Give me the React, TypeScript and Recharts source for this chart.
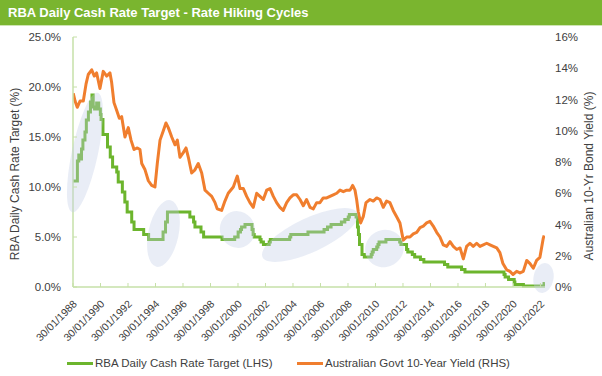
import { LineChart, Line, XAxis, YAxis, ReferenceArea } from "recharts";

if (typeof document !== "undefined") document.body.style.margin = "0";

const FONT = '"Liberation Sans", Arial, Helvetica, sans-serif';
const GREEN = "#6cb52d";
const ORANGE = "#f07e2e";
const AXIS = "#c6e0a8";
const TEXT = "#404040";

// RBA cash rate target: date (decimal year) of each change and new level (%)
const cashDates = [
  1988.08, 1988.4, 1988.5, 1988.6, 1988.7, 1988.8, 1988.95, 1989.05, 1989.2, 1989.35, 1989.46, 1989.55,
  1989.65, 1989.8, 1989.95, 1990.07, 1990.12, 1990.26, 1990.59, 1990.79, 1990.96, 1991.26, 1991.37, 1991.67,
  1991.85, 1992.02, 1992.35, 1992.52, 1993.22, 1993.58, 1994.63, 1994.81, 1994.95, 1996.58, 1996.85, 1996.95,
  1997.39, 1997.58, 1998.92, 1999.84, 2000.09, 2000.26, 2000.34, 2000.59, 2001.1, 2001.18, 2001.26, 2001.68,
  2001.76, 2001.93, 2002.35, 2002.43, 2003.84, 2003.92, 2005.17, 2006.34, 2006.59, 2006.85, 2007.6, 2007.85,
  2008.1, 2008.18, 2008.67, 2008.77, 2008.84, 2008.92, 2009.1, 2009.27, 2009.77, 2009.84, 2009.92, 2010.17,
  2010.26, 2010.34, 2010.84, 2011.84, 2011.93, 2012.34, 2012.43, 2012.76, 2012.93, 2013.35, 2013.6, 2015.1,
  2015.34, 2016.34, 2016.59, 2019.43, 2019.51, 2019.76, 2020.17, 2020.22, 2020.84, 2022.34, 2022.4,
];
const cashRates = [
  10.6, 12.6, 13.2, 12.8, 13.8, 14.7, 15.5, 16.7, 17.5, 18.5, 19.2, 18.0,
  17.8, 18.4, 17.8, 17.25, 16.75, 15.25, 14.0, 13.0, 12.0, 11.5, 10.5, 9.5,
  8.5, 7.5, 6.5, 5.75, 5.25, 4.75, 5.5, 6.5, 7.5, 7.0, 6.5, 6.0,
  5.5, 5.0, 4.75, 5.0, 5.5, 5.75, 6.0, 6.25, 5.75, 5.25, 5.0, 4.75,
  4.5, 4.25, 4.5, 4.75, 5.0, 5.25, 5.5, 5.75, 6.0, 6.25, 6.5, 6.75,
  7.0, 7.25, 7.0, 6.0, 5.25, 4.25, 3.25, 3.0, 3.25, 3.5, 3.75, 4.0,
  4.25, 4.5, 4.75, 4.5, 4.25, 3.75, 3.5, 3.25, 3.0, 2.75, 2.5, 2.25,
  2.0, 1.75, 1.5, 1.25, 1.0, 0.75, 0.5, 0.25, 0.1, 0.35, 0.35,
];

// Australian Govt 10-year bond yield (%)
const bondDates = [
  1988.1, 1988.23, 1988.39, 1988.59, 1988.83, 1989.03, 1989.19, 1989.44, 1989.63, 1989.8, 1990.04, 1990.28,
  1990.53, 1990.77, 1990.89, 1991.06, 1991.26, 1991.45, 1991.62, 1991.86, 1992.1, 1992.3, 1992.52, 1992.76,
  1992.95, 1993.08, 1993.32, 1993.56, 1993.8, 1994.04, 1994.21, 1994.41, 1994.65, 1994.84, 1995.01, 1995.26,
  1995.5, 1995.67, 1995.86, 1996.1, 1996.3, 1996.47, 1996.71, 1996.95, 1997.19, 1997.44, 1997.68, 1997.92,
  1998.17, 1998.41, 1998.57, 1998.89, 1999.13, 1999.37, 1999.74, 2000.03, 2000.23, 2000.47, 2000.71, 2000.95,
  2001.19, 2001.44, 2001.68, 2001.92, 2002.17, 2002.41, 2002.65, 2002.89, 2003.13, 2003.37, 2003.62, 2003.86,
  2004.1, 2004.35, 2004.59, 2004.83, 2005.07, 2005.32, 2005.56, 2005.8, 2006.04, 2006.28, 2006.53, 2006.77,
  2007.01, 2007.26, 2007.5, 2007.74, 2007.99, 2008.23, 2008.42, 2008.59, 2008.71, 2008.83, 2009.0, 2009.19,
  2009.39, 2009.68, 2009.92, 2010.17, 2010.41, 2010.65, 2010.89, 2011.13, 2011.37, 2011.62, 2011.86, 2012.1,
  2012.35, 2012.59, 2012.83, 2013.08, 2013.32, 2013.56, 2013.8, 2014.04, 2014.28, 2014.53, 2014.77, 2015.01,
  2015.26, 2015.5, 2015.74, 2015.99, 2016.23, 2016.47, 2016.71, 2016.95, 2017.19, 2017.44, 2017.68, 2017.92,
  2018.17, 2018.41, 2018.65, 2018.9, 2019.13, 2019.35, 2019.62, 2019.86, 2020.08, 2020.35, 2020.59, 2020.83,
  2021.08, 2021.32, 2021.56, 2021.8, 2022.04, 2022.28, 2022.35,
];
const bondYields = [
  12.4, 11.9, 11.5, 11.9, 11.9, 13.0, 13.6, 13.9, 13.5, 13.7, 12.7, 13.8,
  13.5, 13.7, 13.1, 11.8, 11.3, 10.8, 10.9, 9.6, 10.2, 9.4, 8.8, 8.9,
  8.8, 7.9, 7.5, 6.8, 6.5, 6.4, 7.9, 9.4, 10.0, 10.5, 10.2, 9.6,
  9.1, 9.4, 8.3, 8.6, 8.9, 8.3, 7.3, 7.5, 7.9, 7.3, 6.2, 6.0,
  5.8, 5.4, 5.0, 4.9, 5.5, 6.0, 6.4, 7.1, 6.3, 6.3, 5.8, 5.4,
  5.1, 6.0, 5.8, 5.6, 6.2, 6.3, 5.8, 5.4, 5.1, 4.9, 5.4, 5.7,
  5.9, 5.9, 5.6, 5.2, 5.6, 5.1, 5.0, 5.4, 5.4, 5.7, 5.7, 5.8,
  5.9, 6.0, 6.2, 6.1, 6.2, 6.2, 6.5, 6.2, 5.6, 4.8, 4.1, 4.5,
  5.4, 5.6, 5.5, 5.7, 5.6, 5.1, 5.5, 5.4, 4.9, 4.5, 4.1, 3.0,
  3.2, 3.2, 3.4, 3.5, 3.8, 3.9, 4.1, 4.2, 3.9, 3.5, 3.2, 2.7,
  2.6, 2.9, 2.6, 2.4, 2.5, 1.8, 2.6, 2.8, 2.6, 2.8, 2.6, 2.7,
  2.8, 2.7, 2.6, 2.5, 2.2, 1.5, 1.1, 1.0, 0.8, 1.0, 0.9, 1.0,
  1.7, 1.5, 1.2, 1.7, 1.9, 3.1, 3.3,
];

const tickYears = [1988, 1990, 1992, 1994, 1996, 1998, 2000, 2002, 2004, 2006, 2008, 2010, 2012, 2014, 2016, 2018, 2020, 2022];
const leftTicks = [0, 5, 10, 15, 20, 25];
const rightTicks = [0, 2, 4, 6, 8, 10, 12, 14, 16];

// hiking cycle highlights: centre (year, cash rate), half spans, tilt
const cycleYears = [1988.95, 1994.66, 2000.04, 2005.32, 2010.73, 2022.3];
const cycleRates = [13.45, 5.35, 5.75, 5.2, 3.85, 0.9];
const cycleHalfYears = [0.95, 1.1, 1.27, 3.81, 1.42, 0.73];
const cycleHalfRates = [6.1, 3.4, 1.85, 1.7, 1.85, 1.5];
const cycleTilts = [12, 12, -20, -25, -30, 10];

const cashData = cashDates.map((year, i) => ({ year, rate: cashRates[i] }));
const bondData = bondDates.map((year, i) => ({ year, yield: bondYields[i] }));

const XTick = ({ x, y, payload }: any) => (
  <g transform={`translate(${x},${y})`}>
    <line x1={0} y1={0} x2={0} y2={-4} stroke={AXIS} />
    <text
      transform="translate(2,15) rotate(-45)"
      textAnchor="end"
      dy="0.35em"
      fontSize={10.5}
      fontFamily={FONT}
      fill={TEXT}
    >
      {`30/01/${Math.floor(payload.value)}`}
    </text>
  </g>
);

const LeftTick = ({ x, y, payload }: any) => (
  <g transform={`translate(${x},${y})`}>
    <line x1={0} y1={0} x2={4} y2={0} stroke={AXIS} />
    <text x={-12} dy="0.35em" textAnchor="end" fontSize={11.5} fontFamily={FONT} fill={TEXT}>
      {`${payload.value.toFixed(1)}%`}
    </text>
  </g>
);

const RightTick = ({ x, y, payload }: any) => (
  <text x={x + 10} y={y} dy="0.35em" textAnchor="start" fontSize={11.5} fontFamily={FONT} fill={TEXT}>
    {`${payload.value}%`}
  </text>
);

const axisTitle = (text: string, dx: number, dy: number) => (props: any) => {
  const vb = props.viewBox;
  const cx = vb.x + dx;
  const cy = vb.y + vb.height / 2 + dy;
  return (
    <text
      x={cx}
      y={cy}
      transform={`rotate(-90 ${cx} ${cy})`}
      textAnchor="middle"
      dominantBaseline="central"
      fontSize={12}
      fontFamily={FONT}
      fill={TEXT}
    >
      {text}
    </text>
  );
};

const ellipseShape = (tilt: number) => (props: any) => {
  const { x, y, width, height } = props;
  const cx = x + width / 2;
  const cy = y + height / 2;
  return (
    <ellipse
      cx={cx}
      cy={cy}
      rx={Math.abs(width) / 2}
      ry={Math.abs(height) / 2}
      transform={`rotate(${tilt} ${cx} ${cy})`}
      fill="#c3cde6"
      fillOpacity={0.36}
    />
  );
};

export default function App() {
  return (
    <div style={{ position: "relative", width: 602, height: 376, background: "#fff", fontFamily: FONT, overflow: "hidden" }}>
      <div
        style={{
          height: 26,
          boxSizing: "border-box",
          background: "#7ab52f",
          borderBottom: "1px solid #cfe5b3",
          color: "#fff",
          fontWeight: "bold",
          fontSize: 13,
          lineHeight: "16px",
          paddingTop: 5,
          paddingLeft: 8,
        }}
      >
        RBA Daily Cash Rate Target - Rate Hiking Cycles
      </div>
      <LineChart width={602} height={350} margin={{ top: 11, right: 0, bottom: 0, left: 0 }}>
        <XAxis
          dataKey="year"
          type="number"
          domain={[1988.08, 2022.41]}
          ticks={tickYears.map((y) => y + 0.08)}
          interval={0}
          height={89}
          tickSize={0}
          tickMargin={0}
          tickLine={false}
          axisLine={{ stroke: AXIS, strokeWidth: 1.5 }}
          tick={<XTick />}
          allowDataOverflow
        />
        <YAxis
          yAxisId="left"
          domain={[0, 25]}
          ticks={leftTicks}
          width={73}
          tickSize={0}
          tickMargin={0}
          tickLine={false}
          axisLine={{ stroke: AXIS, strokeWidth: 1.5 }}
          tick={<LeftTick />}
          label={{ content: axisTitle("RBA Daily Cash Rate Target (%)", 15, 12) }}
        />
        <YAxis
          yAxisId="right"
          orientation="right"
          domain={[0, 16]}
          ticks={rightTicks}
          width={57}
          tickSize={0}
          tickMargin={0}
          tickLine={false}
          axisLine={false}
          tick={<RightTick />}
          label={{ content: axisTitle("Australian 10-Yr Bond Yield (%)", 44, 14) }}
        />
        <Line
          yAxisId="left"
          data={cashData}
          dataKey="rate"
          type="stepAfter"
          stroke={GREEN}
          strokeWidth={3}
          dot={false}
          isAnimationActive={false}
        />
        <Line
          yAxisId="right"
          data={bondData}
          dataKey="yield"
          type="linear"
          stroke={ORANGE}
          strokeWidth={3}
          strokeLinejoin="round"
          dot={false}
          isAnimationActive={false}
        />
        {cycleYears.map((year, i) => (
          <ReferenceArea
            key={year}
            yAxisId="left"
            x1={year - cycleHalfYears[i]}
            x2={year + cycleHalfYears[i]}
            y1={cycleRates[i] - cycleHalfRates[i]}
            y2={cycleRates[i] + cycleHalfRates[i]}
            ifOverflow="visible"
            shape={ellipseShape(cycleTilts[i])}
            {...({ zIndex: 1500 } as any)}
          />
        ))}
      </LineChart>
      <div style={{ position: "absolute", top: 356, left: 67, height: 14, display: "flex", alignItems: "center", fontSize: 11.5, color: TEXT }}>
        <span style={{ width: 26, height: 3, background: GREEN, marginRight: 2 }} />
        <span>RBA Daily Cash Rate Target (LHS)</span>
      </div>
      <div style={{ position: "absolute", top: 356, left: 297, height: 14, display: "flex", alignItems: "center", fontSize: 11.5, color: TEXT }}>
        <span style={{ width: 26, height: 3, background: ORANGE, marginRight: 2 }} />
        <span>Australian Govt 10-Year Yield (RHS)</span>
      </div>
    </div>
  );
}
